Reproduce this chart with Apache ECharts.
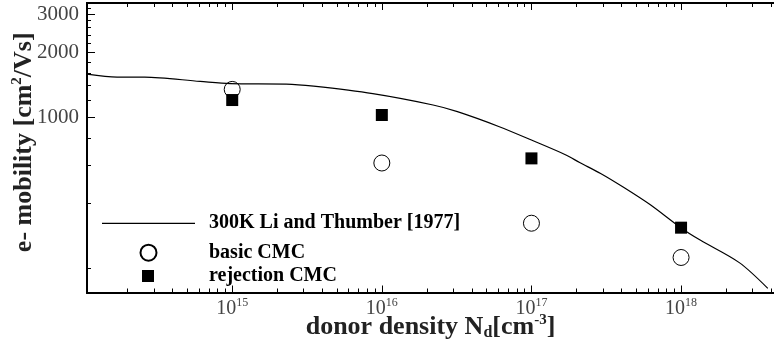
<!DOCTYPE html>
<html>
<head>
<meta charset="utf-8">
<script src="https://cdn.jsdelivr.net/npm/echarts@6/dist/echarts.min.js"></script>
<style>html,body{margin:0;padding:0;background:#fff}#c{width:774px;height:346px}</style>
</head>
<body>
<div id="c"></div>
<script>
// ---- data ----
var curveName = '300K Li and Thumber [1977]';
var basicName = 'basic CMC';
var rejectName = 'rejection CMC';
var curveX = [1.07e14, 1.7e14, 2.6e14, 6.1e14, 9.7e14, 2.3e15, 3.5e15, 8.7e15, 2.2e16, 3.2e16, 6.1e16, 1.0e17, 1.7e17, 2.1e17, 2.9e17, 4.1e17, 6.2e17, 1.0e18, 1.35e18, 2.45e18, 3.8e18];
var curveY = [1585, 1535, 1535, 1465, 1431, 1425, 1393, 1286, 1140, 1062, 905, 785, 670, 618, 550, 476, 395, 308, 270, 213, 162];
var pointX = [1e15, 1e16, 1e17, 1e18];
var basicY = [1346, 615, 324, 225];
var rejectY = [1202, 1025, 646, 309];
var xMajorTicks = [1e15, 1e16, 1e17, 1e18];
var xMinorTicks = [2e14,3e14,4e14,5e14,6e14,7e14,8e14,9e14,2e15,3e15,4e15,5e15,6e15,7e15,8e15,9e15,2e16,3e16,4e16,5e16,6e16,7e16,8e16,9e16,2e17,3e17,4e17,5e17,6e17,7e17,8e17,9e17,2e18,3e18,4e18];
var yMajorTicks = [1000, 2000, 3000];
var yMinorTicks = [200, 400, 600, 800, 1200, 1400, 1600, 1800, 2200, 2400, 2600, 2800, 3200];
var xMin = 1.07e14, xMax = 4.18e18, yMin = 155, yMax = 3376;

function zip(a, b) { return a.map(function (v, i) { return [v, b[i]]; }); }

var serif = '"Liberation Serif", "DejaVu Serif", serif';
var labelColor = '#444';

function xAxisDef(pos, ticks, len, showLabel, showName) {
  var ax = {
    type: 'log', gridIndex: 0, position: pos, min: xMin, max: xMax,
    axisLine: { show: true, lineStyle: { color: '#000', width: 2 } },
    splitLine: { show: false },
    axisTick: { show: true, inside: true, length: len, customValues: ticks, lineStyle: { color: '#000', width: 1 } },
    axisLabel: { show: showLabel, customValues: ticks, margin: 4,
      formatter: function (v) { return '{b|10}{s|' + Math.round(Math.log10(v)) + '}'; },
      rich: { b: { fontFamily: serif, fontSize: 20, color: labelColor }, s: { fontFamily: serif, fontSize: 12, color: labelColor, padding: [0, 0, 12, 0] } } }
  };
  if (showName) {
    ax.name = 'donor density N{sub|d}[cm{sup|-3}]';
    ax.nameLocation = 'middle';
    ax.nameGap = 20;
    ax.nameMoveOverlap = false;
    ax.nameTextStyle = { fontFamily: serif, fontSize: 26, fontWeight: 'bold', color: '#222',
      rich: { sub: { fontFamily: serif, fontSize: 16, fontWeight: 'bold', color: '#222', padding: [12, 0, 0, 0] },
              sup: { fontFamily: serif, fontSize: 15, fontWeight: 'bold', color: '#222', padding: [0, 0, 14, 0] } } };
  }
  return ax;
}

function yAxisDef(ticks, len, showLabel, showName) {
  var ax = {
    type: 'log', gridIndex: 0, position: 'left', min: yMin, max: yMax,
    axisLine: { show: true, lineStyle: { color: '#000', width: 2 } },
    splitLine: { show: false },
    axisTick: { show: true, inside: true, length: len, customValues: ticks, lineStyle: { color: '#000', width: 1 } },
    axisLabel: { show: showLabel, customValues: ticks, margin: 8, fontFamily: serif, fontSize: 21, color: labelColor,
      formatter: function (v) { return String(Math.round(v)); } }
  };
  if (showName) {
    ax.name = 'e- mobility [cm{sup|2}/Vs]';
    ax.nameLocation = 'middle';
    ax.nameGap = 48;
    ax.nameMoveOverlap = false;
    ax.nameTextStyle = { fontFamily: serif, fontSize: 26, fontWeight: 'bold', color: '#222', padding: [0, 0, 0, 11],
      rich: { sup: { fontFamily: serif, fontSize: 15, fontWeight: 'bold', color: '#222', padding: [0, 0, 14, 0] } } };
  }
  return ax;
}

var chart = echarts.init(document.getElementById('c'), null, { renderer: 'canvas' });
chart.setOption({
  animation: false,
  backgroundColor: '#fff',
  grid: { left: 87, right: 0, top: 3, bottom: 53.5, containLabel: false, outerBoundsMode: 'none' },
  xAxis: [
    xAxisDef('bottom', xMajorTicks, 7, true, true),
    xAxisDef('bottom', xMinorTicks, 4, false, false),
    xAxisDef('top', xMajorTicks, 7, false, false),
    xAxisDef('top', xMinorTicks, 4, false, false)
  ],
  yAxis: [
    yAxisDef(yMajorTicks, 8, true, true),
    yAxisDef(yMinorTicks, 4, false, false)
  ],
  legend: [
    { data: [{ name: curveName, icon: 'path://M0,0h93v1.2h-93z' }, { name: basicName, icon: 'circle' }],
      orient: 'vertical', left: 102, top: 213.3, padding: 0,
      itemWidth: 93, itemHeight: 16, itemGap: 9.4,
      textStyle: { fontFamily: serif, fontSize: 20, fontWeight: 'bold', color: '#000', padding: [0, 0, 0, 9] } },
    { data: [{ name: rejectName, icon: 'rect' }], orient: 'vertical', left: 142, top: 266, padding: 0,
      itemWidth: 12, itemHeight: 12,
      textStyle: { fontFamily: serif, fontSize: 20, fontWeight: 'bold', color: '#000', padding: [0, 0, 0, 50] } }
  ],
  series: [
    { name: curveName, type: 'line', xAxisIndex: 0, yAxisIndex: 0, data: zip(curveX, curveY),
      symbol: 'none', smooth: 0.3, lineStyle: { color: '#000', width: 1.2 }, itemStyle: { color: '#000' } },
    { name: basicName, type: 'scatter', xAxisIndex: 0, yAxisIndex: 0, data: zip(pointX, basicY),
      symbol: 'circle', symbolSize: 16, itemStyle: { color: '#fff', borderColor: '#000', borderWidth: 1, opacity: 1 } },
    { name: rejectName, type: 'scatter', xAxisIndex: 0, yAxisIndex: 0, data: zip(pointX, rejectY),
      symbol: 'rect', symbolSize: 12, itemStyle: { color: '#000', opacity: 1 } }
  ]
});
</script>
</body>
</html>
